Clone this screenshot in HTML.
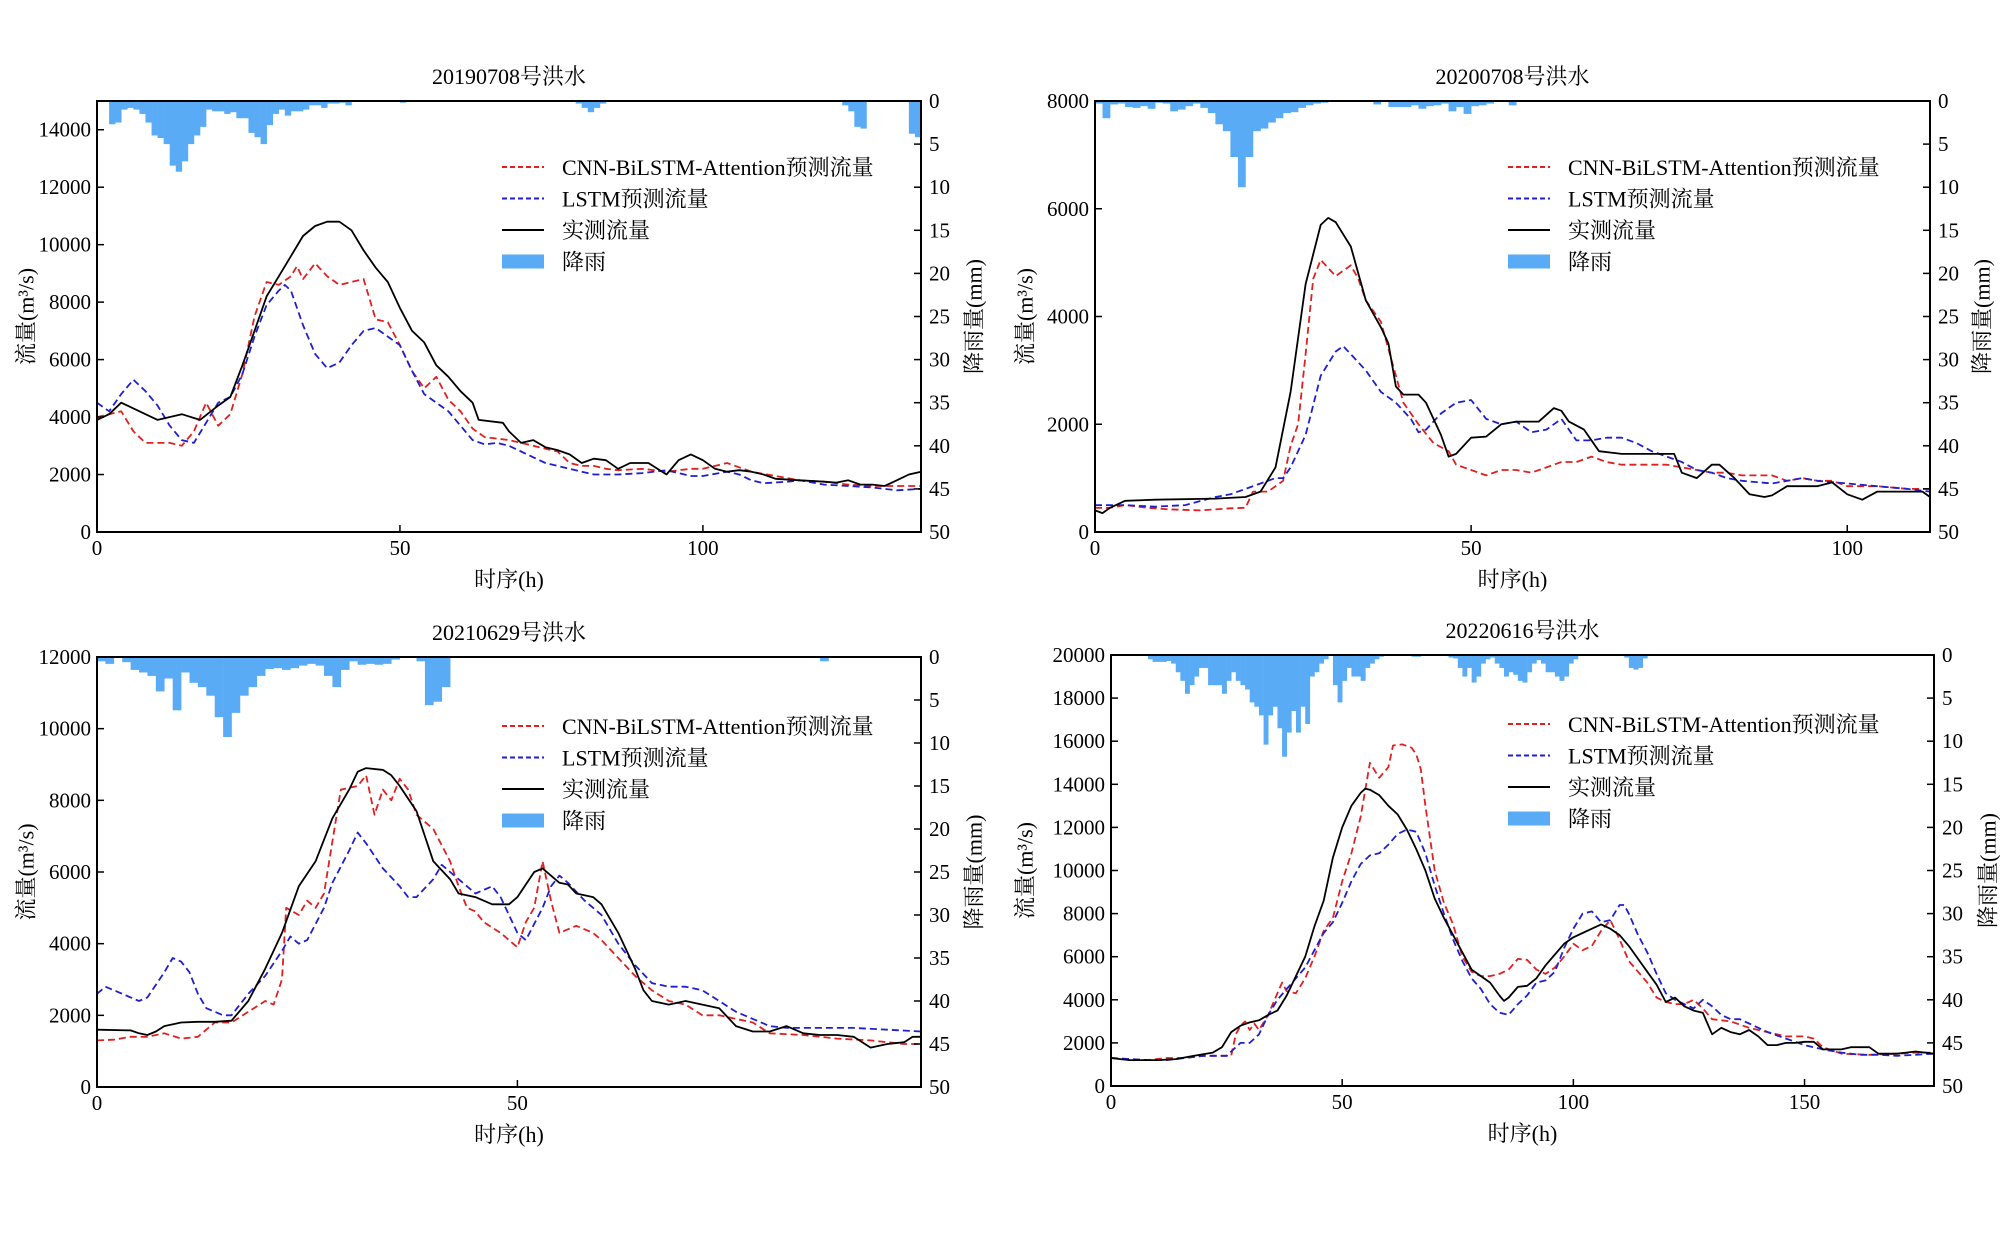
<!DOCTYPE html>
<html><head><meta charset="utf-8"><style>
html,body{margin:0;padding:0;background:#fff;}
svg{display:block;font-family:"Liberation Serif","Noto Serif CJK SC",serif;}
</style></head><body>
<svg id="chart" width="2000" height="1249" viewBox="0 0 2000 1249" xmlns="http://www.w3.org/2000/svg"></svg>
<script>
// ---------- Panel 1 data: 20190708 ----------
const p1Obs = [[0,3900],[2,4100],[4,4500],[6,4300],[10,3900],[14,4100],[17,3900],[20,4400],[22,4700],[24,5800],[26,7000],[28,8200],[30,8900],[32,9600],[34,10300],[36,10650],[38,10800],[40,10800],[42,10500],[44,9800],[46,9200],[48,8700],[50,7800],[52,7000],[54,6600],[56,5800],[58,5400],[60,4900],[62,4500],[63,3900],[67,3800],[68,3500],[70,3100],[72,3200],[74,2950],[76,2850],[78,2700],[80,2400],[82,2550],[84,2500],[86,2200],[88,2400],[91,2400],[94,2000],[96,2500],[98,2700],[100,2500],[102,2200],[104,2100],[106,2150],[108,2100],[110,2000],[112,1850],[116,1800],[120,1750],[122,1720],[124,1800],[126,1650],[128,1650],[130,1600],[132,1800],[134,2000],[136,2100]];
const p1Cnn = [[0,4000],[2,4100],[4,4200],[6,3500],[8,3100],[10,3100],[12,3100],[14,3000],[16,3500],[18,4500],[20,3700],[22,4100],[24,5500],[26,7500],[28,8700],[30,8600],[32,8900],[33,9250],[34,8800],[36,9350],[38,8900],[40,8600],[42,8700],[44,8800],[46,7400],[48,7300],[50,6500],[52,5600],[54,5000],[56,5400],[58,4600],[60,4200],[62,3600],[64,3300],[66,3250],[68,3200],[70,3100],[72,3000],[74,2900],[76,2800],[78,2400],[80,2300],[82,2300],[84,2200],[86,2150],[90,2200],[94,2100],[98,2200],[100,2200],[104,2400],[108,2100],[112,1950],[116,1800],[120,1750],[124,1650],[128,1600],[132,1600],[136,1600]];
const p1Lstm = [[0,4500],[2,4200],[4,4800],[6,5300],[8,4900],[10,4400],[12,3700],[14,3200],[16,3100],[18,3800],[20,4500],[22,4700],[24,5500],[26,6800],[28,7900],[30,8400],[31,8600],[32,8400],[34,7200],[36,6200],[38,5700],[40,5900],[42,6500],[44,7000],[46,7100],[48,6800],[50,6500],[52,5600],[54,4800],[56,4500],[58,4200],[60,3700],[62,3200],[64,3050],[66,3100],[68,3000],[70,2800],[72,2600],[74,2400],[76,2300],[78,2200],[80,2100],[82,2000],[86,2000],[90,2050],[94,2150],[96,2050],[98,1950],[100,1950],[104,2100],[106,2000],[108,1800],[110,1700],[114,1750],[116,1800],[120,1650],[124,1600],[128,1550],[132,1450],[136,1500]];
const p1Rain = [[2,2.7],[3,2.5],[4,1],[5,0.8],[6,1],[7,1.5],[8,2.5],[9,4],[10,4.3],[11,5],[12,7.5],[13,8.2],[14,7],[15,5],[16,4],[17,3],[18,1],[19,1.2],[20,1.2],[21,1.5],[22,1.3],[23,2],[24,2],[25,3.7],[26,4.2],[27,5],[28,2.8],[29,1.5],[30,1],[31,1.7],[32,1.2],[33,1.2],[34,1],[35,0.5],[36,0.5],[37,0.8],[38,0.3],[39,0.3],[40,0.2],[41,0.5],[50,0.2],[52,0.1],[55,0.1],[79,0.3],[80,0.8],[81,1.3],[82,0.8],[83,0.3],[123,0.5],[124,1.2],[125,3],[126,3.2],[134,3.8],[135,4.2]];
const p1YTicks = [0,2000,4000,6000,8000,10000,12000,14000];
const p1XTicks = [0,50,100];

// ---------- Panel 2 data: 20200708 ----------
const p2Obs = [[0,400],[1,350],[2,450],[4,580],[8,600],[16,620],[20,650],[22,750],[24,1200],[26,2600],[27,3600],[28,4600],[30,5700],[31,5830],[32,5750],[34,5300],[36,4300],[38,3800],[39,3500],[40,2700],[41,2550],[43,2550],[44,2400],[46,1800],[47,1400],[48,1450],[50,1750],[52,1770],[54,2000],[56,2050],[59,2050],[61,2300],[62,2250],[63,2050],[65,1900],[67,1500],[70,1450],[74,1450],[77,1450],[78,1100],[80,1000],[82,1250],[83,1250],[85,1000],[87,700],[89,650],[90,680],[92,850],[96,850],[98,920],[100,700],[102,600],[104,750],[108,750],[110,750],[111,650]];
const p2Cnn = [[0,450],[2,450],[4,500],[7,450],[10,420],[14,400],[18,440],[20,450],[21,750],[23,750],[25,950],[26,1600],[27,2000],[28,3300],[29,4700],[30,5050],[32,4750],[34,4950],[35,4700],[36,4300],[38,3900],[40,2900],[41,2400],[43,2000],[45,1650],[47,1500],[48,1250],[50,1150],[52,1050],[54,1150],[56,1150],[58,1100],[60,1200],[62,1300],[64,1300],[66,1400],[68,1300],[70,1250],[74,1250],[76,1250],[78,1200],[80,1150],[82,1100],[84,1100],[86,1050],[90,1050],[92,950],[94,1000],[96,950],[98,950],[100,850],[104,850],[108,800],[111,800]];
const p2Lstm = [[0,500],[4,500],[8,470],[12,500],[16,650],[18,700],[20,800],[22,900],[24,1000],[25,1000],[26,1200],[28,1800],[30,2900],[32,3350],[33,3450],[34,3300],[36,3000],[38,2600],[40,2400],[42,2100],[43,1850],[44,1900],[46,2200],[48,2400],[50,2450],[52,2100],[54,2000],[56,2050],[58,1850],[60,1900],[62,2100],[64,1700],[66,1700],[68,1750],[70,1750],[72,1650],[74,1500],[76,1400],[78,1300],[80,1150],[82,1100],[84,1000],[86,950],[90,900],[94,1000],[96,950],[100,900],[104,850],[108,800],[111,750]];
const p2Rain = [[0,0.3],[1,2],[2,0.4],[3,0.3],[4,0.7],[5,0.8],[6,0.6],[7,0.9],[8,0.2],[9,0.3],[10,1.2],[11,1],[12,0.6],[13,0.3],[14,0.8],[15,1.4],[16,2.7],[17,3.5],[18,6.5],[19,10],[20,6.5],[21,3.5],[22,3.2],[23,2.5],[24,2],[25,1.4],[26,1.3],[27,0.8],[28,0.5],[29,0.3],[30,0.2],[34,0.1],[35,0.1],[36,0.1],[37,0.4],[38,0.1],[39,0.7],[40,0.7],[41,0.7],[42,0.5],[43,0.9],[44,0.6],[45,0.5],[46,0.3],[47,1.2],[48,0.7],[49,1.5],[50,0.6],[51,0.5],[52,0.3],[55,0.5]];
const p2YTicks = [0,2000,4000,6000,8000];
const p2XTicks = [0,50,100];

// ---------- Panel 3 data: 20210629 ----------
const p3Obs = [[0,1600],[4,1580],[5,1500],[6,1450],[7,1550],[8,1700],[10,1800],[12,1820],[14,1820],[16,1850],[18,2400],[20,3300],[22,4300],[24,5600],[26,6300],[28,7500],[30,8300],[31,8800],[32,8900],[34,8850],[35,8700],[36,8400],[38,7700],[40,6300],[42,5800],[43,5400],[45,5300],[47,5100],[49,5100],[50,5300],[52,6000],[53,6100],[55,5700],[56,5650],[57,5400],[59,5300],[60,5100],[62,4300],[64,3300],[65,2700],[66,2400],[68,2300],[70,2400],[72,2300],[74,2200],[76,1700],[78,1550],[80,1550],[82,1700],[84,1500],[86,1450],[88,1450],[90,1400],[92,1100],[94,1200],[96,1250],[97,1400],[98,1400]];
const p3Cnn = [[0,1300],[2,1320],[4,1400],[6,1400],[8,1500],[10,1350],[12,1400],[14,1800],[16,1800],[18,2100],[20,2400],[21,2300],[22,3000],[22.5,5000],[24,4800],[25,5200],[26,5000],[27,5400],[29,8300],[31,8400],[32,8700],[33,7600],[34,8300],[35,8000],[36,8600],[37,8300],[38,7600],[40,7200],[42,6300],[43,5600],[44,5000],[45,4900],[46,4600],[48,4300],[50,3900],[51,4600],[52,5000],[53,6300],[54,5200],[55,4300],[57,4500],[59,4300],[60,4100],[62,3600],[64,3100],[66,2700],[68,2400],[70,2300],[72,2000],[74,2000],[76,1900],[78,1800],[80,1500],[84,1450],[88,1350],[92,1300],[96,1200],[98,1200]];
const p3Lstm = [[0,2600],[1,2800],[3,2600],[5,2400],[6,2500],[8,3200],[9,3600],[10,3500],[11,3200],[12,2600],[13,2200],[15,2000],[16,2000],[18,2600],[20,3100],[22,3800],[23,4200],[24,4000],[25,4100],[27,5000],[28,5700],[30,6600],[31,7100],[32,6800],[34,6100],[36,5600],[37,5300],[38,5300],[40,5800],[41,6200],[42,6000],[44,5600],[45,5400],[47,5600],[48,5300],[50,4300],[51,4100],[53,5000],[54,5600],[55,5900],[56,5700],[58,5200],[60,4800],[62,4000],[64,3400],[66,2900],[68,2800],[70,2800],[72,2700],[74,2400],[76,2100],[78,1900],[80,1700],[82,1650],[86,1650],[90,1650],[94,1600],[98,1550]];
const p3Rain = [[0,0.5],[1,0.8],[3,0.6],[4,1.5],[5,1.8],[6,2.2],[7,4],[8,2.5],[9,6.2],[10,1.8],[11,3],[12,3.5],[13,4.5],[14,7],[15,9.3],[16,6.5],[17,4.5],[18,3.5],[19,2.2],[20,1.4],[21,1.3],[22,1.5],[23,1.3],[24,1],[25,0.8],[26,1],[27,2.2],[28,3.5],[29,1.5],[30,0.5],[31,0.9],[32,0.8],[33,0.9],[34,0.8],[35,0.3],[38,0.5],[39,5.6],[40,5.2],[41,3.5],[86,0.5]];
const p3YTicks = [0,2000,4000,6000,8000,10000,12000];
const p3XTicks = [0,50];

// ---------- Panel 4 data: 20220616 ----------
const p4Obs = [[0,1300],[2,1250],[4,1200],[10,1200],[14,1250],[18,1400],[22,1550],[24,1800],[26,2500],[28,2800],[30,2950],[32,3050],[34,3300],[36,3500],[38,4200],[40,5100],[42,6000],[44,7400],[46,8600],[48,10600],[50,12000],[52,13000],[54,13600],[55,13800],[56,13750],[58,13500],[60,13000],[62,12600],[64,11900],[66,11000],[68,10000],[70,8700],[72,7800],[74,7000],[76,6200],[78,5400],[80,5100],[82,4800],[84,4200],[85,3950],[86,4100],[88,4600],[90,4650],[92,5000],[94,5600],[96,6100],[98,6600],[100,6900],[102,7100],[104,7300],[106,7500],[108,7300],[110,7000],[112,6500],[114,5900],[116,5300],[118,4700],[120,3900],[122,4100],[124,3700],[126,3500],[128,3400],[130,2400],[132,2700],[134,2500],[136,2400],[138,2600],[140,2300],[142,1900],[144,1900],[146,2000],[148,2000],[150,2050],[152,2050],[154,1700],[156,1700],[158,1700],[160,1800],[164,1800],[166,1500],[170,1500],[174,1600],[178,1500]];
const p4Cnn = [[0,1300],[4,1250],[8,1200],[12,1300],[16,1300],[20,1400],[24,1400],[26,1400],[27,2400],[28,2800],[29,3000],[30,2600],[31,2900],[32,2600],[34,3300],[36,4300],[37,4800],[38,4400],[40,4300],[42,5000],[44,6000],[46,7200],[48,7800],[50,9500],[52,10800],[54,12500],[56,15000],[58,14300],[60,14800],[61,15800],[63,15850],[65,15700],[66,15400],[67,14700],[68,13000],[70,10000],[72,8500],[74,7500],[76,6000],[78,5300],[80,5100],[82,5100],[84,5200],[86,5400],[88,5900],[90,5850],[92,5400],[94,5200],[96,5500],[98,6000],[100,6600],[102,6300],[104,6500],[106,7200],[108,7700],[110,6800],[112,5800],[114,5300],[116,4800],[118,4100],[120,3900],[122,3800],[124,3800],[126,4000],[128,3600],[130,3100],[134,3000],[138,2700],[142,2500],[146,2300],[150,2300],[152,2200],[154,1800],[158,1500],[164,1450],[170,1500],[174,1550],[178,1550]];
const p4Lstm = [[0,1300],[4,1250],[8,1200],[12,1200],[16,1300],[20,1400],[24,1400],[25,1400],[26,1600],[28,2000],[30,2000],[32,2400],[34,3300],[36,4000],[38,4500],[40,5000],[42,5500],[44,6300],[46,7100],[48,7600],[50,8500],[52,9500],[54,10300],[56,10700],[58,10800],[60,11200],[62,11700],[64,11900],[66,11800],[68,10800],[70,9300],[72,8000],[74,6800],[76,5800],[78,5000],[80,4500],[82,3800],[84,3400],[86,3300],[88,3800],[90,4200],[92,4800],[94,4900],[96,5300],[98,6400],[100,7300],[102,8000],[104,8100],[106,7600],[108,7700],[110,8400],[111,8400],[112,8000],[114,7000],[116,6200],[118,5200],[120,4300],[122,4000],[124,3800],[126,3600],[128,4000],[130,3700],[132,3300],[134,3100],[136,3100],[138,2900],[140,2700],[142,2500],[146,2200],[150,1900],[154,1700],[158,1550],[162,1450],[166,1450],[170,1400],[174,1450],[178,1500]];
const p4Rain = [[8,0.5],[9,0.8],[10,0.8],[11,0.8],[12,0.7],[13,1],[14,2],[15,3],[16,4.5],[17,3.5],[18,2.5],[19,1.5],[20,1.5],[21,3.5],[22,3.5],[23,3.5],[24,4.5],[25,3],[26,2],[27,3],[28,3.5],[29,4],[30,5.5],[31,6],[32,7],[33,10.4],[34,7],[35,6],[36,8.5],[37,11.8],[38,9],[39,6.5],[40,9],[41,6],[42,8],[43,2.5],[44,2],[45,1],[46,0.5],[48,3.5],[49,5.5],[50,3],[51,1.5],[52,2.5],[53,2.5],[54,3],[55,1.5],[56,1],[57,0.5],[58,0.2],[65,0.2],[66,0.2],[73,0.3],[74,0.4],[75,1.5],[76,2.5],[77,1.5],[78,3.2],[79,2.5],[80,1],[81,0.5],[82,0.3],[83,1],[84,1.5],[85,2.5],[86,2],[87,2.3],[88,3],[89,3.2],[90,2],[91,1],[92,0.6],[93,1],[94,2],[95,2],[96,2.5],[97,3],[98,2.5],[99,1],[100,0.5],[111,0.3],[112,1.5],[113,1.7],[114,1.5],[115,0.4],[126,0.1],[127,0.1]];
const p4YTicks = [0,2000,4000,6000,8000,10000,12000,14000,16000,18000,20000];
const p4XTicks = [0,50,100,150];

const rainTicks = [0,5,10,15,20,25,30,35,40,45,50];
const legendLabels = ['CNN-BiLSTM-Attention预测流量','LSTM预测流量','实测流量','降雨'];

const NS = 'http://www.w3.org/2000/svg';
const svg = document.getElementById('chart');
function mk(tag, attrs, parent, text){
  const e = document.createElementNS(NS, tag);
  for (const k in attrs) e.setAttribute(k, attrs[k]);
  if (text !== undefined) e.textContent = text;
  (parent||svg).appendChild(e);
  return e;
}

const panels = [
  {id:'p1', title:'20190708号洪水', L:97, R:921, T:101, B:532, xMax:136, yMax:15000, obs:p1Obs, cnn:p1Cnn, lstm:p1Lstm, rain:p1Rain, yt:p1YTicks, xt:p1XTicks, ylabX:26, rlabX:974, legX:502, legY:167},
  {id:'p2', title:'20200708号洪水', L:1095, R:1930, T:101, B:532, xMax:111, yMax:8000, obs:p2Obs, cnn:p2Cnn, lstm:p2Lstm, rain:p2Rain, yt:p2YTicks, xt:p2XTicks, ylabX:1025, rlabX:1982, legX:1508, legY:167},
  {id:'p3', title:'20210629号洪水', L:97, R:921, T:657, B:1087, xMax:98, yMax:12000, obs:p3Obs, cnn:p3Cnn, lstm:p3Lstm, rain:p3Rain, yt:p3YTicks, xt:p3XTicks, ylabX:26, rlabX:974, legX:502, legY:726},
  {id:'p4', title:'20220616号洪水', L:1111, R:1934, T:655, B:1086, xMax:178, yMax:20000, obs:p4Obs, cnn:p4Cnn, lstm:p4Lstm, rain:p4Rain, yt:p4YTicks, xt:p4XTicks, ylabX:1025, rlabX:1988, legX:1508, legY:724}
];

panels.forEach(p => {
  const g = mk('g', {});
  
  
  const xs = h => p.L + (h / p.xMax) * (p.R - p.L);
  const ys = v => p.B - (v / p.yMax) * (p.B - p.T);
  const rs = mm => p.T + (mm / 50) * (p.B - p.T);

  const t = mk('text', {x:(p.L+p.R)/2, y:p.T-17, 'text-anchor':'middle', 'font-size':22, fill:'#000'}, g, p.title);
  
  

  const rg = mk('g', {}, g);
  
  
  p.rain.forEach(([h, mm]) => {
    const x0 = xs(h), x1 = Math.min(xs(h+1), p.R);
    const b = mk('rect', {x:x0, y:p.T, width:Math.max(0, x1-x0+0.3), height:rs(mm)-p.T, fill:'#5aabf5'}, rg);
    
    
  });

  const line = (data, color, dash, name) => {
    const d = data.map(([h,v],i) => (i?'L':'M') + xs(h).toFixed(1) + ',' + ys(v).toFixed(1)).join(' ');
    const l = mk('path', {d:d, fill:'none', stroke:color, 'stroke-width':1.8, 'stroke-linejoin':'round'}, g);
    if (dash) l.setAttribute('stroke-dasharray', dash);
    
    
  };
  line(p.cnn, '#e02020', '7,4', 'cnn-bilstm-attention-line');
  line(p.lstm, '#1f1fd0', '7,4', 'lstm-line');
  line(p.obs, '#000', null, 'observed-flow-line');

  const fr = mk('rect', {x:p.L, y:p.T, width:p.R-p.L, height:p.B-p.T, fill:'none', stroke:'#000', 'stroke-width':2}, g);
  
  

  p.yt.forEach(v => {
    const y = ys(v);
    mk('line', {x1:p.L, x2:p.L+7, y1:y, y2:y, stroke:'#000', 'stroke-width':1.5}, g);
    const tl = mk('text', {x:p.L-6, y:y+7, 'text-anchor':'end', 'font-size':21}, g, String(v));
    
    
  });
  rainTicks.forEach(mm => {
    const y = rs(mm);
    mk('line', {x1:p.R-7, x2:p.R, y1:y, y2:y, stroke:'#000', 'stroke-width':1.5}, g);
    const tl = mk('text', {x:p.R+8, y:y+7, 'text-anchor':'start', 'font-size':21}, g, String(mm));
    
    
  });
  p.xt.forEach(h => {
    const x = xs(h);
    mk('line', {x1:x, x2:x, y1:p.B-7, y2:p.B, stroke:'#000', 'stroke-width':1.5}, g);
    const tl = mk('text', {x:x, y:p.B+23, 'text-anchor':'middle', 'font-size':21}, g, String(h));
    
    
  });

  const cy = (p.T+p.B)/2;
  const yl = mk('text', {x:p.ylabX, y:cy, 'text-anchor':'middle', 'font-size':22, transform:`rotate(-90 ${p.ylabX} ${cy})`, dy:'0.35em'}, g, '流量(m³/s)');
  
  
  const rl = mk('text', {x:p.rlabX, y:cy, 'text-anchor':'middle', 'font-size':22, transform:`rotate(-90 ${p.rlabX} ${cy})`, dy:'0.35em'}, g, '降雨量(mm)');
  
  
  const xl = mk('text', {x:(p.L+p.R)/2, y:p.B+55, 'text-anchor':'middle', 'font-size':22}, g, '时序(h)');
  
  

  const lg = mk('g', {}, g);
  
  
  const styles = [['#e02020','5,3'],['#1f1fd0','5,3'],['#000',null],['#5aabf5','patch']];
  legendLabels.forEach((lab, i) => {
    const y = p.legY + i*31.5;
    const e = mk('g', {}, lg);
    
    
    const [c, d] = styles[i];
    if (d === 'patch') {
      mk('rect', {x:p.legX, y:y-7, width:42, height:14, fill:c}, e);
    } else {
      const ln = mk('line', {x1:p.legX, x2:p.legX+42, y1:y, y2:y, stroke:c, 'stroke-width':2}, e);
      if (d) ln.setAttribute('stroke-dasharray', d);
    }
    mk('text', {x:p.legX+60, y:y+8, 'font-size':22}, e, lab);
  });
});
</script>
</body></html>
